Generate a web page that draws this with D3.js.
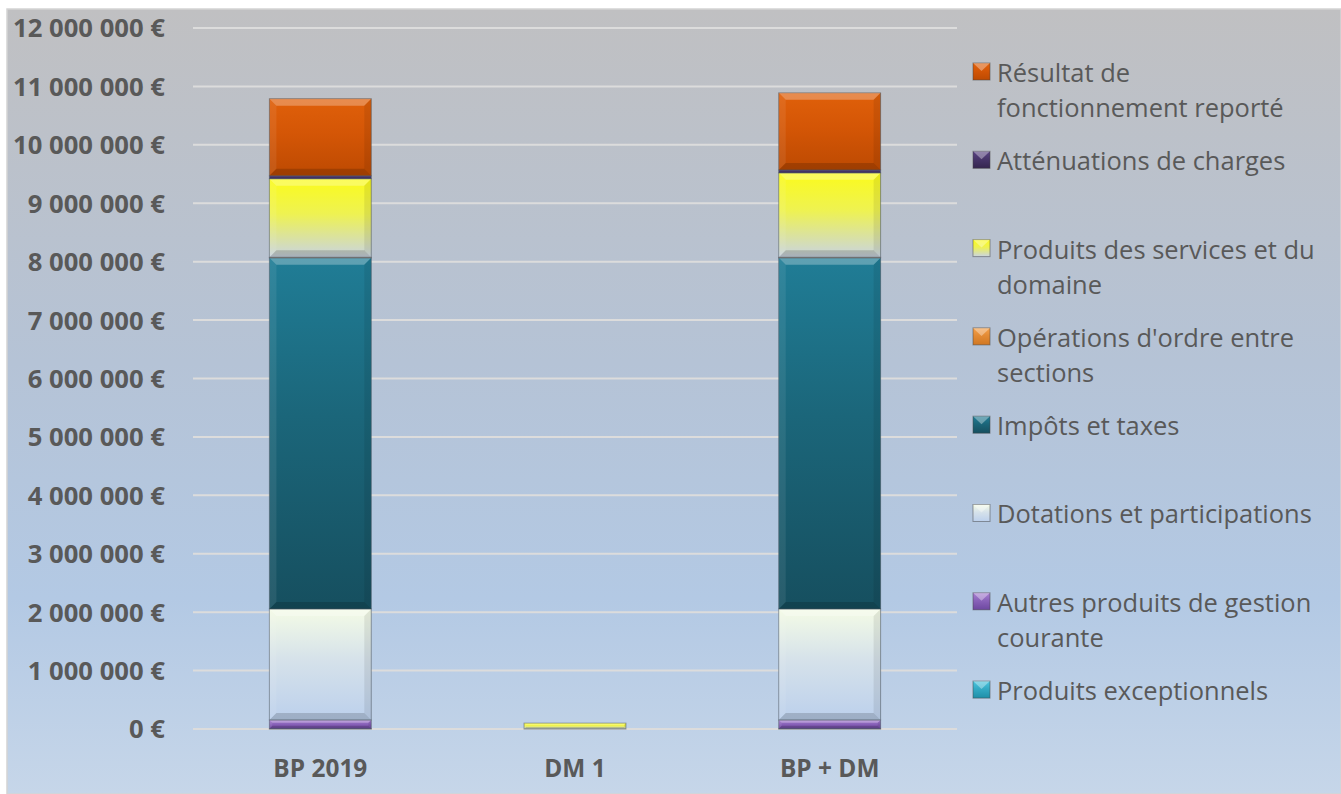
<!DOCTYPE html>
<html><head><meta charset="utf-8">
<script src="https://cdn.jsdelivr.net/npm/d3@7/dist/d3.min.js"></script>
<style>
html,body{margin:0;padding:0;background:#fff;}
svg{display:block;}
</style></head>
<body>
<svg id="chart" width="1341" height="794"></svg>
<script>
// ---- data ----
const categories = ["BP 2019", "DM 1", "BP + DM"];
// stacking order: bottom -> top
const seriesNames = [
  "Produits exceptionnels",
  "Autres produits de gestion courante",
  "Dotations et participations",
  "Impôts et taxes",
  "Opérations d'ordre entre sections",
  "Produits des services et du domaine",
  "Atténuations de charges",
  "Résultat de fonctionnement reporté"
];
const produitsExceptionnels = [5000, 0, 5000];
const autresProduits = [150000, 0, 150000];
const dotations = [1900000, 0, 1900000];
const impots = [6010000, 0, 6010000];
const operationsOrdre = [10000, 0, 10000];
const produitsServices = [1345000, 100000, 1445000];
const attenuations = [50000, 0, 50000];
const resultatReporte = [1320000, 0, 1320000];
const yTicks = [0,1000000,2000000,3000000,4000000,5000000,6000000,7000000,8000000,9000000,10000000,11000000,12000000];
// legend labels (wrapped as in reference), top -> bottom
const legendLines = [
  ["Résultat de", "fonctionnement reporté"],
  ["Atténuations de charges"],
  ["Produits des services et du", "domaine"],
  ["Opérations d'ordre entre", "sections"],
  ["Impôts et taxes"],
  ["Dotations et participations"],
  ["Autres produits de gestion", "courante"],
  ["Produits exceptionnels"]
];

const seriesValues = [produitsExceptionnels, autresProduits, dotations, impots, operationsOrdre, produitsServices, attenuations, resultatReporte];
// colors [top, mid, bottom] per series
const colors = [
  ["#4cc6df", "#34aac4", "#1f8fa8"],
  ["#a77fd3", "#8a63ba", "#6d48a0"],
  ["#f4fbe6", "#d6e2ea", "#bcd0ec"],
  ["#207d96", "#1b667a", "#164f5f"],
  ["#f5a04a", "#e38b35", "#d07722"],
  ["#fbfb1c", "#eef252", "#c9d4e2"],
  ["#5a4484", "#47356a", "#35264f"],
  ["#e0600a", "#d45606", "#bd4a02"]
];

const rows = categories.map((c, i) => {
  const r = {cat: c};
  seriesNames.forEach((s, k) => r[s] = seriesValues[k][i]);
  return r;
});

const svg = d3.select("#chart");
const W = 1341, H = 794;
const FONT = "'Open Sans', sans-serif";
const defs = svg.append("defs");

// background
const bg = defs.append("linearGradient").attr("id","bg").attr("x1",0).attr("y1",0).attr("x2",0).attr("y2",1);
bg.append("stop").attr("offset","0%").attr("stop-color","#c0c0c2");
bg.append("stop").attr("offset","45%").attr("stop-color","#b5c3d6");
bg.append("stop").attr("offset","75%").attr("stop-color","#b3c9e4");
bg.append("stop").attr("offset","100%").attr("stop-color","#c6d6e9");
svg.append("rect").attr("x",0).attr("y",0).attr("width",W).attr("height",H).attr("fill","#fff");
svg.append("rect").attr("x",7).attr("y",9).attr("width",W-7).attr("height",H-9).attr("fill","url(#bg)")
  .attr("stroke","#d4d4d4").attr("stroke-width",1.5);

colors.forEach((c, k) => {
  const g = defs.append("linearGradient").attr("id","g"+k).attr("x1",0).attr("y1",0).attr("x2",0).attr("y2",1);
  g.append("stop").attr("offset","0%").attr("stop-color",c[0]);
  g.append("stop").attr("offset","45%").attr("stop-color",c[1]);
  g.append("stop").attr("offset","100%").attr("stop-color",c[2]);
});

const x = d3.scaleBand().domain(categories).range([193, 957]).paddingInner(0.6).paddingOuter(0.3);
const y = d3.scaleLinear().domain([0, 12000000]).range([729, 28]);

// fit a font size so that a sample string has the target width
function fitSize(sample, weight, target) {
  const t = svg.append("text").attr("font-family",FONT).attr("font-weight",weight).attr("font-size",100).text(sample);
  const w = t.node().getComputedTextLength();
  t.remove();
  return 100 * target / w;
}
const ySize = fitSize("12\u00a0000\u00a0000\u00a0€", "bold", 152);
const xSize = fitSize("BP 2019", "bold", 94);
const lSize = fitSize("Dotations et participations", "normal", 315);

// gridlines
svg.append("g").selectAll("line").data(yTicks).join("line")
  .attr("x1",193).attr("x2",957)
  .attr("y1",d=>y(d)).attr("y2",d=>y(d))
  .attr("stroke","#dcdcdc").attr("stroke-width",2);

// y axis labels
const fmt = v => d3.format(",")(v).replace(/,/g, "\u00a0") + "\u00a0€";
const yAxis = d3.axisLeft(y).tickValues(yTicks).tickFormat(fmt).tickSize(0).tickPadding(0);
const yg = svg.append("g").attr("transform","translate(165,0)").call(yAxis);
yg.select(".domain").remove();
yg.selectAll("text").attr("font-family",FONT).attr("font-weight","bold")
  .attr("font-size",ySize).attr("fill","#595959").attr("dy","0.35em");

// x axis labels
const xAxis = d3.axisBottom(x).tickSize(0).tickPadding(0);
const xg = svg.append("g").attr("transform","translate(0,768)").call(xAxis);
xg.select(".domain").remove();
xg.selectAll("text").attr("font-family",FONT).attr("font-weight","bold")
  .attr("font-size",xSize).attr("fill","#595959").attr("dy","0.35em");

// stacked bars
const stack = d3.stack().keys(seriesNames);
const stacked = stack(rows);
const bw = x.bandwidth();
stacked.forEach((layer, k) => {
  const g = svg.append("g");
  layer.forEach((d, i) => {
    const v = d[1] - d[0];
    if (v <= 0) return;
    const x0 = x(categories[i]), y0 = y(d[1]), h = y(d[0]) - y(d[1]);
    g.append("rect").attr("x",x0).attr("y",y0).attr("width",bw).attr("height",h)
      .attr("fill","url(#g"+k+")").attr("stroke","#4a5560").attr("stroke-opacity",0.55).attr("stroke-width",1);
    const b = Math.min(7, h/3);
    if (b > 1) {
      g.append("path").attr("d",`M${x0},${y0}L${x0+bw},${y0}L${x0+bw-b},${y0+b}L${x0+b},${y0+b}Z`)
        .attr("fill","#fff").attr("opacity",0.28);
      g.append("path").attr("d",`M${x0},${y0+h}L${x0+bw},${y0+h}L${x0+bw-b},${y0+h-b}L${x0+b},${y0+h-b}Z`)
        .attr("fill","#000").attr("opacity",0.16);
      g.append("path").attr("d",`M${x0+bw},${y0}L${x0+bw},${y0+h}L${x0+bw-b},${y0+h-b}L${x0+bw-b},${y0+b}Z`)
        .attr("fill","#000").attr("opacity",0.08);
      g.append("path").attr("d",`M${x0},${y0}L${x0},${y0+h}L${x0+b},${y0+h-b}L${x0+b},${y0+b}Z`)
        .attr("fill","#fff").attr("opacity",0.08);
    }
  });
});

// legend
const lg = svg.append("g");
legendLines.forEach((lines, i) => {
  const k = seriesNames.length - 1 - i;
  const cy = 73 + i * 88.3;
  const m = lg.append("g");
  m.append("rect").attr("x",973).attr("y",cy-10).attr("width",17).attr("height",17)
    .attr("fill","url(#g"+k+")").attr("stroke","#444").attr("stroke-opacity",0.5);
  m.append("path").attr("d",`M973,${cy-10}L990,${cy-10}L981.5,${cy-2}Z`).attr("fill","#fff").attr("opacity",0.35);
  lines.forEach((t, j) => {
    lg.append("text").attr("x",997).attr("y",cy + j*35.5).attr("dy","0.35em")
      .attr("font-family",FONT).attr("font-size",lSize).attr("fill","#595959").text(t);
  });
});
</script>
</body></html>
